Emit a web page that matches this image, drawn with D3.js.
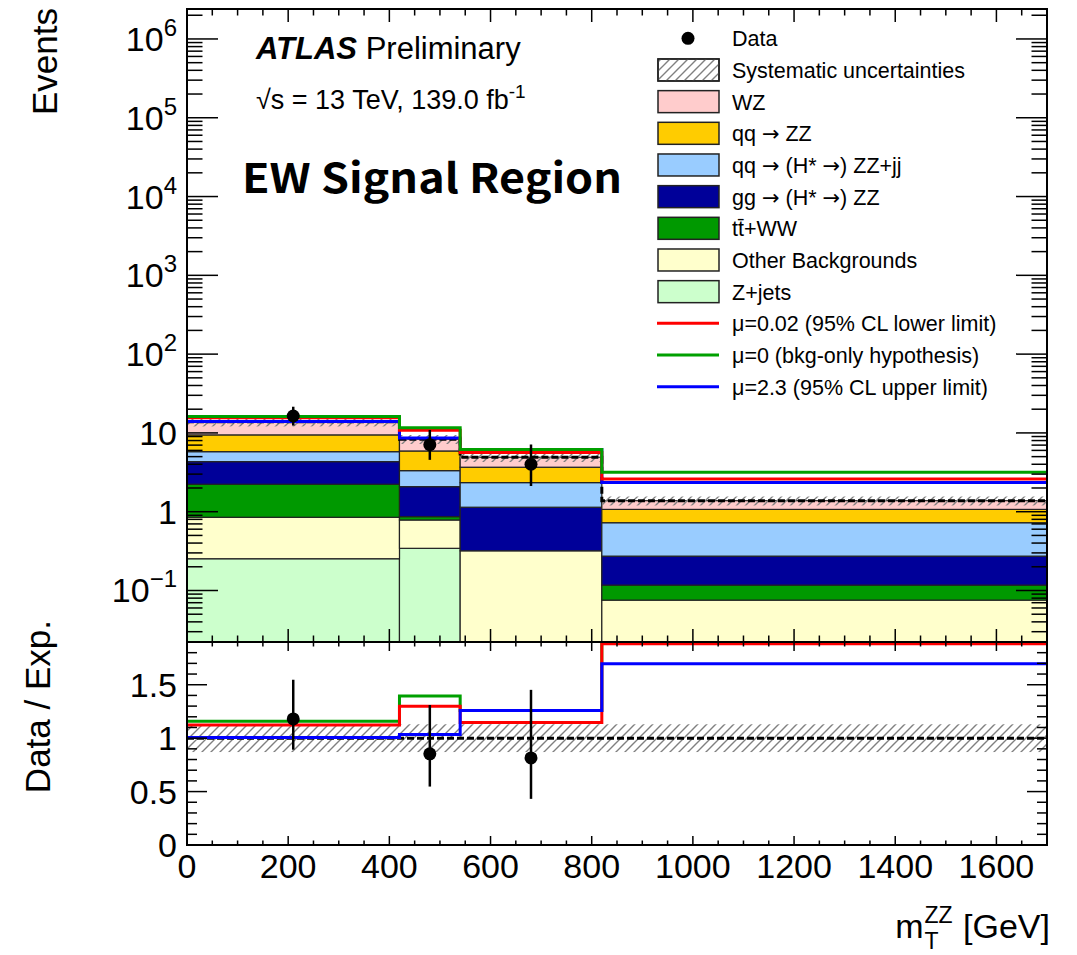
<!DOCTYPE html>
<html>
<head>
<meta charset="utf-8">
<script src="https://cdn.jsdelivr.net/npm/d3@7"></script>
<style>
  body { margin: 0; background: #fff; }
  #chart { font-family: "Liberation Sans", Arial, Helvetica, sans-serif; }
  text { fill: #000; }
</style>
</head>
<body>
<svg id="chart" width="1077" height="955"></svg>
<script>
// bin edges in m_T^ZZ [GeV]
const binEdges = [0, 420, 540, 820, 1700];

// expected events per bin, stacked bottom -> top
const zjets    = [0.253, 0.343, 0, 0];
const otherBkg = [0.597, 0.442, 0.319, 0.0755];
const ttWW     = [1.38, 0.08, 0, 0.0415];
const ggZZ     = [2.09, 1.215, 0.821, 0.156];
const qqZZjj   = [1.46, 1.24, 1.2, 0.452];
const qqZZ     = [3.66, 2.58, 1.33, 0.345];
const wz       = [4.46, 2.42, 1.24, 0.31];

// relative systematic uncertainty per bin
const sysRel = [0.13, 0.13, 0.13, 0.13];

// total prediction for the three signal strengths
const muLower = [15.6, 10.8, 5.63, 2.6];   // mu = 0.02
const muZero  = [16.1, 11.6, 6.18, 3.17];  // mu = 0
const muUpper = [14.0, 8.6, 6.18, 2.34];   // mu = 2.3

// observed data
const dataX    = [210, 480, 680];
const dataY    = [16.4, 7.1, 4.0];
const dataUp   = [21.5, 10.9, 7.13];
const dataDown = [12.4, 4.55, 2.12];

const xTicks = [0, 200, 400, 600, 800, 1000, 1200, 1400, 1600];
const ratioTicks = [0, 0.5, 1, 1.5];

const svg = d3.select("#chart");

// frame geometry
const L = 187, R = 1047, T = 9, MB = 642, RB = 845;

const x = d3.scaleLinear().domain([0, 1700]).range([L, R]);
const y = d3.scaleLog().domain([0.0222, 2.4e6]).range([MB, T]);
const yr = d3.scaleLinear().domain([0, 1.9]).range([RB, MB]);

const defs = svg.append("defs");
const hatch = defs.append("pattern")
    .attr("id", "hatch")
    .attr("patternUnits", "userSpaceOnUse")
    .attr("width", 9).attr("height", 9);
hatch.append("path")
    .attr("d", "M-1,1 l2,-2 M0,9 l9,-9 M8,10 l2,-2")
    .attr("stroke", "#808080").attr("stroke-width", 1.4);

defs.append("clipPath").attr("id", "clipMain")
    .append("rect").attr("x", L).attr("y", T).attr("width", R - L).attr("height", MB - T);
defs.append("clipPath").attr("id", "clipRatio")
    .append("rect").attr("x", L).attr("y", MB).attr("width", R - L).attr("height", RB - MB);

// build the stack
const components = [
    { name: "Z+jets", values: zjets, color: "#ccffcc" },
    { name: "Other Backgrounds", values: otherBkg, color: "#ffffcc" },
    { name: "ttWW", values: ttWW, color: "#009900" },
    { name: "ggZZ", values: ggZZ, color: "#000099" },
    { name: "qqZZjj", values: qqZZjj, color: "#99ccff" },
    { name: "qqZZ", values: qqZZ, color: "#ffcc00" },
    { name: "WZ", values: wz, color: "#ffcccc" }
];
let base = zjets.map(() => 0);
components.forEach(c => {
    c.lo = base.slice();
    c.hi = base.map((b, i) => b + c.values[i]);
    base = c.hi;
});
const total = base;

const bins = total.map((t, i) => ({ i, x0: binEdges[i], x1: binEdges[i + 1] }));

// step path helper
function stepPoints(vals) {
    const pts = [];
    vals.forEach((v, i) => {
        pts.push([binEdges[i], v]);
        pts.push([binEdges[i + 1], v]);
    });
    return pts;
}

const main = svg.append("g").attr("clip-path", "url(#clipMain)");

components.forEach(c => {
    main.selectAll(null)
        .data(bins.filter(b => c.values[b.i] > 0))
        .enter().append("rect")
        .attr("x", b => x(b.x0))
        .attr("width", b => x(b.x1) - x(b.x0))
        .attr("y", b => y(c.hi[b.i]))
        .attr("height", b => (c.lo[b.i] > 0 ? y(c.lo[b.i]) : MB + 5) - y(c.hi[b.i]))
        .attr("fill", c.color)
        .attr("stroke", "#222")
        .attr("stroke-width", 1.2);
});

// systematic band
main.selectAll(null)
    .data(bins)
    .enter().append("rect")
    .attr("x", b => x(b.x0))
    .attr("width", b => x(b.x1) - x(b.x0))
    .attr("y", b => y(total[b.i] * (1 + sysRel[b.i])))
    .attr("height", b => y(total[b.i] * (1 - sysRel[b.i])) - y(total[b.i] * (1 + sysRel[b.i])))
    .attr("fill", "url(#hatch)");

const lineMain = d3.line().x(d => x(d[0])).y(d => y(d[1]));

main.append("path")
    .attr("d", lineMain(stepPoints(total)))
    .attr("fill", "none").attr("stroke", "#000")
    .attr("stroke-width", 3).attr("stroke-dasharray", "7,3");

[[muUpper, "#0000ff"], [muLower, "#ff0000"], [muZero, "#00a000"]].forEach(([vals, col]) => {
    main.append("path")
        .attr("d", lineMain(stepPoints(vals)))
        .attr("fill", "none").attr("stroke", col).attr("stroke-width", 3);
});

// data points
main.selectAll(null).data(dataX).enter().append("line")
    .attr("x1", d => x(d)).attr("x2", d => x(d))
    .attr("y1", (d, i) => y(dataUp[i])).attr("y2", (d, i) => y(dataDown[i]))
    .attr("stroke", "#000").attr("stroke-width", 2.5);
main.selectAll(null).data(dataX).enter().append("circle")
    .attr("cx", d => x(d)).attr("cy", (d, i) => y(dataY[i]))
    .attr("r", 6.5).attr("fill", "#000");

// ratio panel
const ratio = svg.append("g").attr("clip-path", "url(#clipRatio)");
const lineRatio = d3.line().x(d => x(d[0])).y(d => yr(d[1]));

ratio.selectAll(null)
    .data(bins)
    .enter().append("rect")
    .attr("x", b => x(b.x0))
    .attr("width", b => x(b.x1) - x(b.x0))
    .attr("y", b => yr(1 + sysRel[b.i]))
    .attr("height", b => yr(1 - sysRel[b.i]) - yr(1 + sysRel[b.i]))
    .attr("fill", "url(#hatch)");

ratio.append("line")
    .attr("x1", L).attr("x2", R).attr("y1", yr(1)).attr("y2", yr(1))
    .attr("stroke", "#000").attr("stroke-width", 3).attr("stroke-dasharray", "7,3");

[[muZero, "#00a000"], [muLower, "#ff0000"], [muUpper, "#0000ff"]].forEach(([vals, col]) => {
    ratio.append("path")
        .attr("d", lineRatio(stepPoints(vals.map((v, i) => v / total[i]))))
        .attr("fill", "none").attr("stroke", col).attr("stroke-width", 3);
});

const binOf = v => binEdges.findIndex((e, i) => v >= e && v < binEdges[i + 1]);
ratio.selectAll(null).data(dataX).enter().append("line")
    .attr("x1", d => x(d)).attr("x2", d => x(d))
    .attr("y1", (d, i) => yr(dataUp[i] / total[binOf(d)]))
    .attr("y2", (d, i) => yr(dataDown[i] / total[binOf(d)]))
    .attr("stroke", "#000").attr("stroke-width", 2.5);
ratio.selectAll(null).data(dataX).enter().append("circle")
    .attr("cx", d => x(d)).attr("cy", (d, i) => yr(dataY[i] / total[binOf(d)]))
    .attr("r", 6.5).attr("fill", "#000");

// frames
svg.append("rect").attr("x", L).attr("y", T).attr("width", R - L).attr("height", MB - T)
    .attr("fill", "none").attr("stroke", "#000").attr("stroke-width", 2);
svg.append("rect").attr("x", L).attr("y", MB).attr("width", R - L).attr("height", RB - MB)
    .attr("fill", "none").attr("stroke", "#000").attr("stroke-width", 2);

// ticks
const ticks = svg.append("g").attr("stroke", "#000").attr("stroke-width", 1.5);
function tick(x1, y1, x2, y2) {
    ticks.append("line").attr("x1", x1).attr("y1", y1).attr("x2", x2).attr("y2", y2);
}
d3.range(0, 1701, 50).forEach(v => {
    const major = v % 200 === 0;
    const px = x(v);
    const lm = major ? 13 : 6.5, lr = major ? 9 : 4.5;
    tick(px, MB, px, MB - lm);
    tick(px, T, px, T + lm);
    tick(px, RB, px, RB - lr);
    tick(px, MB, px, MB + lr);
});
for (let d = -2; d <= 6; d++) {
    for (let k = 1; k <= 9; k++) {
        const v = k * Math.pow(10, d);
        if (v < y.domain()[0] || v > y.domain()[1]) continue;
        const len = k === 1 ? 31 : 15.5;
        tick(L, y(v), L + len, y(v));
        tick(R, y(v), R - len, y(v));
    }
}
d3.range(0, 19).forEach(k => {
    const v = k / 10;
    const len = k % 5 === 0 ? 20 : 10;
    tick(L, yr(v), L + len, yr(v));
    tick(R, yr(v), R - len, yr(v));
});

// tick labels
const labels = svg.append("g");
for (let d = -1; d <= 6; d++) {
    const t = labels.append("text")
        .attr("x", 177).attr("y", y(Math.pow(10, d)) + 12)
        .attr("text-anchor", "end").attr("font-size", 34);
    if (d === 0) t.text("1");
    else if (d === 1) t.text("10");
    else {
        t.append("tspan").text("10");
        t.append("tspan").attr("dy", -15).attr("font-size", 24).text(d < 0 ? "\u2212" + (-d) : d);
    }
}
ratioTicks.forEach(v => {
    labels.append("text")
        .attr("x", 177).attr("y", yr(v) + 12)
        .attr("text-anchor", "end").attr("font-size", 34)
        .text(v);
});
xTicks.forEach(v => {
    labels.append("text")
        .attr("x", x(v)).attr("y", 878)
        .attr("text-anchor", "middle").attr("font-size", 34)
        .text(v);
});

// axis titles
svg.append("text")
    .attr("transform", "translate(57,8) rotate(-90)")
    .attr("text-anchor", "end").attr("font-size", 35)
    .text("Events");
svg.append("text")
    .attr("transform", "translate(50,620) rotate(-90)")
    .attr("text-anchor", "end").attr("font-size", 35)
    .text("Data / Exp.");

const xt = svg.append("g");
const mText = xt.append("text").attr("y", 938).attr("font-size", 34).text("m");
const subT = xt.append("text").attr("y", 949).attr("font-size", 23).text("T");
const supZ = xt.append("text").attr("y", 923).attr("font-size", 23).text("ZZ");
const gev = xt.append("text").attr("y", 938).attr("font-size", 34).text(" [GeV]").attr("xml:space", "preserve");
const wM = mText.node().getComputedTextLength();
const wS = Math.max(subT.node().getComputedTextLength(), supZ.node().getComputedTextLength());
const wG = gev.node().getComputedTextLength();
const x0 = 1050 - wM - wS - wG - 2;
mText.attr("x", x0);
subT.attr("x", x0 + wM + 1);
supZ.attr("x", x0 + wM + 1);
gev.attr("x", x0 + wM + wS + 2);

// ATLAS label
const atlas = svg.append("text").attr("x", 256).attr("y", 59).attr("font-size", 31);
atlas.append("tspan").attr("font-weight", "bold").attr("font-style", "italic").text("ATLAS");
atlas.append("tspan").text(" Preliminary");

const lumi = svg.append("text").attr("x", 256).attr("y", 109).attr("font-size", 27);
lumi.append("tspan").text("\u221As = 13 TeV, 139.0 fb");
lumi.append("tspan").attr("dy", -11).attr("font-size", 19).text("-1");

svg.append("text")
    .attr("x", 242).attr("y", 193)
    .attr("font-family", "'Noto Sans CJK SC', 'Noto Sans', sans-serif")
    .attr("font-weight", "bold").attr("font-size", 41)
    .attr("textLength", 380).attr("lengthAdjust", "spacingAndGlyphs")
    .text("EW Signal Region");

// legend
const arrow = "\u2192";
const legendItems = [
    { label: ["Data"], type: "marker" },
    { label: ["Systematic uncertainties"], type: "hatch" },
    { label: ["WZ"], type: "fill", color: "#ffcccc" },
    { label: ["qq ", arrow, " ZZ"], type: "fill", color: "#ffcc00" },
    { label: ["qq ", arrow, " (H* ", arrow, ") ZZ+jj"], type: "fill", color: "#99ccff" },
    { label: ["gg ", arrow, " (H* ", arrow, ") ZZ"], type: "fill", color: "#000099" },
    { label: ["tt\u0304+WW"], type: "fill", color: "#009900" },
    { label: ["Other Backgrounds"], type: "fill", color: "#ffffcc" },
    { label: ["Z+jets"], type: "fill", color: "#ccffcc" },
    { label: ["\u03bc=0.02 (95% CL lower limit)"], type: "line", color: "#ff0000" },
    { label: ["\u03bc=0 (bkg-only hypothesis)"], type: "line", color: "#00a000" },
    { label: ["\u03bc=2.3 (95% CL upper limit)"], type: "line", color: "#0000ff" }
];
const legend = svg.append("g");
legendItems.forEach((d, i) => {
    const cy = 38.3 + i * 31.67;
    const g = legend.append("g");
    if (d.type === "marker") {
        g.append("circle").attr("cx", 688).attr("cy", cy).attr("r", 6.5).attr("fill", "#000");
    } else if (d.type === "line") {
        g.append("line").attr("x1", 657).attr("x2", 719).attr("y1", cy).attr("y2", cy)
            .attr("stroke", d.color).attr("stroke-width", 3);
    } else {
        g.append("rect").attr("x", 658).attr("y", cy - 11).attr("width", 61).attr("height", 22)
            .attr("fill", d.type === "hatch" ? "#fff" : d.color)
            .attr("stroke", "#222").attr("stroke-width", 1.5);
        if (d.type === "hatch") {
            g.append("rect").attr("x", 658).attr("y", cy - 11).attr("width", 61).attr("height", 22)
                .attr("fill", "url(#hatch)").attr("stroke", "#222").attr("stroke-width", 1.5);
        }
    }
    const t = g.append("text").attr("x", 732).attr("y", cy + 8).attr("font-size", 21.5)
        .attr("xml:space", "preserve");
    d.label.forEach(part => {
        const s = t.append("tspan").text(part);
        if (part === arrow) s.attr("font-family", "'DejaVu Sans', sans-serif").attr("font-size", 21);
    });
});
</script>
</body>
</html>
